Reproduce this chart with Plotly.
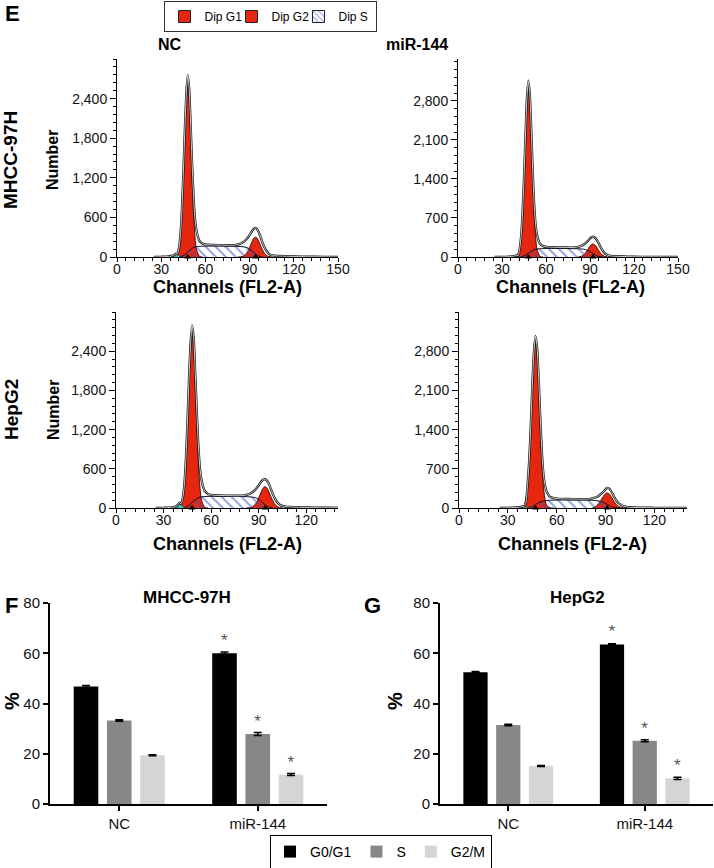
import plotly.graph_objects as go

# ---------------- DATA ----------------
# Flow-cytometry histograms (channel -> number of events)
DATA_CH = [25, 30, 35, 38, 39, 40, 41, 42, 43, 44, 45, 46, 47, 48, 49, 50, 51, 52, 53, 54,
           55, 56, 58, 60, 65, 70, 75, 80, 83, 85, 87, 89, 90, 91, 92, 93, 94, 95, 96, 97,
           98, 100, 102, 104, 107, 110, 115, 120, 130, 140, 150]
G1_CH = [40, 42, 43, 44, 45, 46, 47, 48, 49, 50, 51, 52, 53, 54, 56, 58]
G2_CH = [82, 84, 86, 88, 89, 90, 91, 92, 93, 94, 95, 96, 97, 98, 100, 102, 105]
S_CH = [42, 44, 46, 48, 50, 52, 54, 57, 62, 70, 78, 84, 87, 89, 91, 93, 95, 97, 99]
DEB_CH = [36, 38, 39, 40, 41, 42, 43, 44]

# MHCC-97H / NC
TL_DATA = [0, 3, 8, 20, 35, 50, 45, 130, 320, 700, 1250, 1900, 2450, 2760, 2550, 2000, 1400, 900, 560, 400,
           300, 245, 205, 190, 183, 180, 178, 180, 195, 215, 250, 300, 330, 370, 405, 430, 440, 425, 385, 330,
           265, 150, 75, 35, 20, 15, 12, 8, 4, 3, 0]
TL_G1 = [10, 110, 295, 640, 1180, 1820, 2365, 2580, 2365, 1820, 1180, 640, 295, 110, 10, 0]
TL_G2 = [0, 3, 16, 58, 95, 145, 198, 250, 287, 300, 287, 250, 198, 145, 58, 16, 0]
TL_S = [0, 10, 35, 75, 115, 145, 158, 163, 165, 165, 163, 158, 150, 135, 105, 65, 30, 8, 0]
TL_DEB = [0, 10, 30, 45, 40, 20, 5, 0]
TL_PEAKS = [48, 94]

# MHCC-97H / miR-144
TR_DATA = [0, 3, 8, 15, 22, 28, 25, 140, 360, 790, 1420, 2170, 2850, 3160, 2900, 2250, 1500, 920, 560, 390,
           290, 235, 195, 182, 175, 172, 170, 172, 190, 210, 250, 300, 330, 355, 365, 355, 330, 290, 240, 190,
           140, 70, 35, 20, 14, 10, 8, 5, 3, 2, 0]
TR_G1 = [10, 125, 335, 730, 1350, 2080, 2700, 2950, 2700, 2080, 1350, 730, 335, 125, 10, 0]
TR_G2 = [2, 12, 45, 113, 155, 195, 224, 235, 224, 195, 155, 113, 75, 45, 12, 2, 0]
TR_S = [0, 10, 33, 70, 105, 132, 145, 150, 152, 152, 150, 145, 132, 110, 80, 45, 18, 4, 0]
TR_DEB = [0, 5, 12, 18, 15, 8, 2, 0]
TR_PEAKS = [48, 92]

# HepG2 / NC
BL_DATA = [0, 3, 10, 25, 50, 80, 65, 140, 330, 720, 1280, 1950, 2500, 2790, 2600, 2050, 1450, 930, 590, 420,
           320, 260, 215, 200, 192, 190, 188, 190, 205, 225, 262, 315, 345, 385, 415, 435, 440, 425, 390, 335,
           270, 155, 80, 40, 22, 16, 12, 8, 4, 3, 0]
BL_G1 = [10, 115, 305, 660, 1210, 1870, 2430, 2650, 2430, 1870, 1210, 660, 305, 115, 10, 0]
BL_G2 = [0, 3, 17, 63, 103, 157, 214, 271, 311, 325, 311, 271, 214, 157, 63, 17, 0]
BL_S = [0, 11, 38, 82, 125, 158, 172, 177, 178, 178, 177, 172, 163, 147, 115, 71, 33, 9, 0]
BL_DEB = [0, 15, 45, 75, 60, 25, 5, 0]
BL_PEAKS = [48, 94]

# HepG2 / miR-144
BR_DATA = [0, 3, 10, 20, 28, 30, 80, 380, 800, 1420, 2170, 2790, 3070, 2850, 2250, 1550, 950, 560, 380, 280,
           230, 200, 178, 168, 162, 160, 158, 160, 180, 200, 250, 300, 335, 360, 350, 320, 270, 215, 165, 120,
           85, 45, 25, 15, 10, 8, 6, 4, 3, 2, 0]
BR_G1 = [20, 335, 735, 1350, 2090, 2715, 2960, 2715, 2090, 1350, 735, 335, 130, 40, 5, 0]
BR_G2 = [6, 28, 86, 178, 224, 258, 270, 258, 224, 178, 130, 86, 51, 28, 6, 1, 0]
BR_S = [0, 14, 40, 78, 108, 127, 135, 140, 142, 142, 140, 133, 118, 95, 65, 35, 12, 3, 0]
BR_DEB = [0, 8, 20, 30, 25, 10, 2, 0]
BR_PEAKS = [47, 91]

# Cell-cycle distribution bar charts (%)
GROUPS = ["NC", "miR-144"]
MHCC_G0G1 = [46.8, 60.0]
MHCC_S = [33.2, 27.9]
MHCC_G2M = [19.4, 11.7]
MHCC_G0G1_ERR = [0.4, 0.5]
MHCC_S_ERR = [0.3, 0.6]
MHCC_G2M_ERR = [0.2, 0.4]
HEPG2_G0G1 = [52.4, 63.5]
HEPG2_S = [31.4, 25.2]
HEPG2_G2M = [15.1, 10.2]
HEPG2_G0G1_ERR = [0.3, 0.3]
HEPG2_S_ERR = [0.3, 0.4]
HEPG2_G2M_ERR = [0.2, 0.4]
SIG = ["", "*"]

# ---------------- STYLE / LAYOUT HELPERS ----------------
W, H = 714, 868
FONT = "Arial, 'Liberation Sans', sans-serif"
RED = "#e5270f"
HATCH = "#3550c4"
BAR_COLORS = ["#000000", "#878787", "#d5d5d5"]


def fx(px):
    return px / W


def fy(py):
    return 1 - py / H


fig = go.Figure()

panels = [
    ("x", "y", TL_DATA, TL_G1, TL_G2, TL_S, TL_DEB, TL_PEAKS),
    ("x2", "y2", TR_DATA, TR_G1, TR_G2, TR_S, TR_DEB, TR_PEAKS),
    ("x3", "y3", BL_DATA, BL_G1, BL_G2, BL_S, BL_DEB, BL_PEAKS),
    ("x4", "y4", BR_DATA, BR_G1, BR_G2, BR_S, BR_DEB, BR_PEAKS),
]

for xa, ya, data, g1, g2, s, deb, peaks in panels:
    common = dict(xaxis=xa, yaxis=ya, showlegend=False, hoverinfo="skip")
    fig.add_trace(go.Scatter(x=G1_CH, y=g1, mode="lines", fill="tozeroy", fillcolor=RED,
                             line=dict(color="#2a0800", width=0.9, shape="spline", smoothing=0.8), **common))
    fig.add_trace(go.Scatter(x=G2_CH, y=g2, mode="lines", fill="tozeroy", fillcolor=RED,
                             line=dict(color="#2a0800", width=0.9, shape="spline", smoothing=0.8), **common))
    fig.add_trace(go.Scatter(x=S_CH, y=s, mode="lines", fill="tozeroy", fillcolor="rgba(0,0,0,0)",
                             fillpattern=dict(shape="\\", fgcolor=HATCH, bgcolor="rgba(255,255,255,0)",
                                              size=7, solidity=0.3),
                             line=dict(color="#101030", width=1, shape="spline", smoothing=0.8), **common))
    fig.add_trace(go.Scatter(x=DEB_CH, y=deb, mode="lines", fill="tozeroy", fillcolor="#3cc8c8",
                             line=dict(color="#124040", width=0.7, shape="spline", smoothing=0.8), **common))
    fig.add_trace(go.Scatter(x=DATA_CH, y=data, mode="lines",
                             line=dict(color="#111111", width=2.3, shape="spline", smoothing=0.7), **common))
    fig.add_trace(go.Scatter(x=DATA_CH, y=data, mode="lines",
                             line=dict(color="#ffffff", width=0.8, shape="spline", smoothing=0.7), **common))
    fig.add_trace(go.Scatter(x=peaks, y=[0] * len(peaks), mode="markers", cliponaxis=False,
                             marker=dict(symbol="triangle-up", size=6, color="black"), **common))

# legend entries for the histogram components (top legend)
for name, color, pattern, lw in [("Dip G1", RED, None, 22), ("Dip G2", RED, None, 22),
                                 ("Dip S", "white", "\\", 32)]:
    marker = dict(color=color, line=dict(color="#222222", width=1))
    if pattern:
        marker["pattern"] = dict(shape=pattern, fgcolor=HATCH, bgcolor="white", size=5, solidity=0.3)
    fig.add_trace(go.Bar(x=[None], y=[None], name=name, marker=marker, legend="legend",
                         legendwidth=lw, xaxis="x", yaxis="y", hoverinfo="skip"))

# bar charts
bar_sets = [
    ("x5", "y5", [MHCC_G0G1, MHCC_S, MHCC_G2M], [MHCC_G0G1_ERR, MHCC_S_ERR, MHCC_G2M_ERR], True),
    ("x6", "y6", [HEPG2_G0G1, HEPG2_S, HEPG2_G2M], [HEPG2_G0G1_ERR, HEPG2_S_ERR, HEPG2_G2M_ERR], False),
]
names = ["G0/G1", "S", "G2/M"]
for xa, ya, vals, errs, show in bar_sets:
    for name, v, e, c in zip(names, vals, errs, BAR_COLORS):
        fig.add_trace(go.Bar(
            x=GROUPS, y=v, name=name, marker=dict(color=c, line=dict(width=0)),
            error_y=dict(type="data", array=e, visible=True, color="black", thickness=1.5, width=4),
            text=SIG, textposition="outside", cliponaxis=False, constraintext="none",
            textfont=dict(size=17, color="#555555", family=FONT),
            xaxis=xa, yaxis=ya, showlegend=show, legend="legend2", legendgroup=name, hoverinfo="skip"))

# ---------------- AXES ----------------
def hist_x(dom, rng, anchor):
    return dict(domain=[fx(dom[0]), fx(dom[1])], range=rng, type="linear", anchor=anchor,
                showline=True, linecolor="black", linewidth=1, ticks="outside", ticklen=4,
                tickwidth=1, tickcolor="black", tickvals=[0, 30, 60, 90, 120, 150],
                ticklabelstandoff=-5,
                tickfont=dict(size=14, color="#111"), showgrid=False, zeroline=False,
                minor=dict(ticks="outside", ticklen=2.5, dtick=6, tick0=0, tickcolor="black", tickwidth=1))


def hist_y(dom, rng, anchor, tv, mdt):
    return dict(domain=[fy(dom[1]), fy(dom[0])], range=rng, type="linear", anchor=anchor,
                showline=True, linecolor="black", linewidth=1, ticks="outside", ticklen=6,
                tickwidth=1, tickcolor="black", tickvals=tv, tickformat=",d",
                tickfont=dict(size=14, color="#111"), showgrid=False, zeroline=False,
                minor=dict(ticks="outside", ticklen=3, dtick=mdt, tick0=0, tickcolor="black", tickwidth=1))


def bar_x(dom, anchor):
    return dict(domain=[fx(dom[0]), fx(dom[1])], anchor=anchor, type="category",
                showline=True, linecolor="black", linewidth=2, ticks="outside", ticklen=5,
                tickwidth=2, tickcolor="black", tickfont=dict(size=15, color="#111"),
                showgrid=False, zeroline=False)


def bar_y(dom, anchor):
    return dict(domain=[fy(dom[1]), fy(dom[0])], range=[0, 80], anchor=anchor,
                showline=True, linecolor="black", linewidth=2, ticks="outside", ticklen=5,
                tickwidth=2, tickcolor="black", tickvals=[0, 20, 40, 60, 80],
                tickfont=dict(size=15, color="#111"), showgrid=False, zeroline=False)


Y_TOP_T = [0, 600, 1200, 1800, 2400]
Y_TOP_M = [0, 700, 1400, 2100, 2800]

layout_axes = dict(
    xaxis=hist_x((117, 338), [0, 150], "y"),
    yaxis=hist_y((59, 257), [0, 3000], "x", Y_TOP_T, 120),
    xaxis2=hist_x((458, 678), [0, 150], "y2"),
    yaxis2=hist_y((59, 257), [0, 3550], "x2", Y_TOP_M, 140),
    xaxis3=hist_x((116, 338), [0, 140], "y3"),
    yaxis3=hist_y((312, 508), [0, 3000], "x3", Y_TOP_T, 120),
    xaxis4=hist_x((459, 687), [0, 140], "y4"),
    yaxis4=hist_y((312, 508), [0, 3500], "x4", Y_TOP_M, 140),
    xaxis5=bar_x((50, 327), "y5"),
    yaxis5=bar_y((603, 804), "x5"),
    xaxis6=bar_x((440, 713), "y6"),
    yaxis6=bar_y((603, 804), "x6"),
)


def ann(text, x, y, size, bold=True, angle=0, xanchor="center"):
    return dict(text=f"<b>{text}</b>" if bold else text, x=fx(x), y=fy(y), xref="paper", yref="paper",
                showarrow=False, xanchor=xanchor, yanchor="middle", textangle=angle,
                font=dict(size=size, color="black", family=FONT))


annotations = [
    ann("E", 3, 14, 22, xanchor="left"),
    ann("NC", 170, 44, 16),
    ann("miR-144", 417, 44, 16),
    ann("MHCC-97H", 11, 160, 19, angle=-90),
    ann("HepG2", 11, 410, 19, angle=-90),
    ann("Number", 53, 160, 16, angle=-90),
    ann("Number", 53, 410, 16, angle=-90),
    ann("Channels (FL2-A)", 228, 287, 18),
    ann("Channels (FL2-A)", 570, 287, 18),
    ann("Channels (FL2-A)", 227, 544, 18),
    ann("Channels (FL2-A)", 572, 544, 18),
    ann("F", 3, 605, 22, xanchor="left"),
    ann("G", 362, 605, 22, xanchor="left"),
    ann("MHCC-97H", 187, 597, 17),
    ann("HepG2", 577, 597, 17),
    ann("%", 12, 701, 20, angle=-90),
    ann("%", 395, 701, 20, angle=-90),
]

fig.update_layout(
    width=W, height=H, margin=dict(l=0, r=0, t=0, b=0, autoexpand=False),
    paper_bgcolor="white", plot_bgcolor="white",
    font=dict(family=FONT, color="black"),
    barmode="group", bargap=0.28, bargroupgap=0.26,
    annotations=annotations,
    legend=dict(x=fx(270), y=fy(1), xanchor="center", yanchor="top", orientation="h",
                bordercolor="#333333", borderwidth=1, bgcolor="white",
                font=dict(size=12, family=FONT), itemwidth=30, tracegroupgap=0,
                entrywidthmode="pixels"),
    legend2=dict(x=fx(381), y=fy(835), xanchor="center", yanchor="top", orientation="h",
                 bordercolor="black", borderwidth=1, bgcolor="white",
                 font=dict(size=14, family=FONT), itemwidth=30, tracegroupgap=0),
    **layout_axes,
)

# the page's default body margin would offset the figure; remove it once drawn
fig.write_html("out.html", config={"displayModeBar": False},
               post_script="document.body.style.margin='0';")
